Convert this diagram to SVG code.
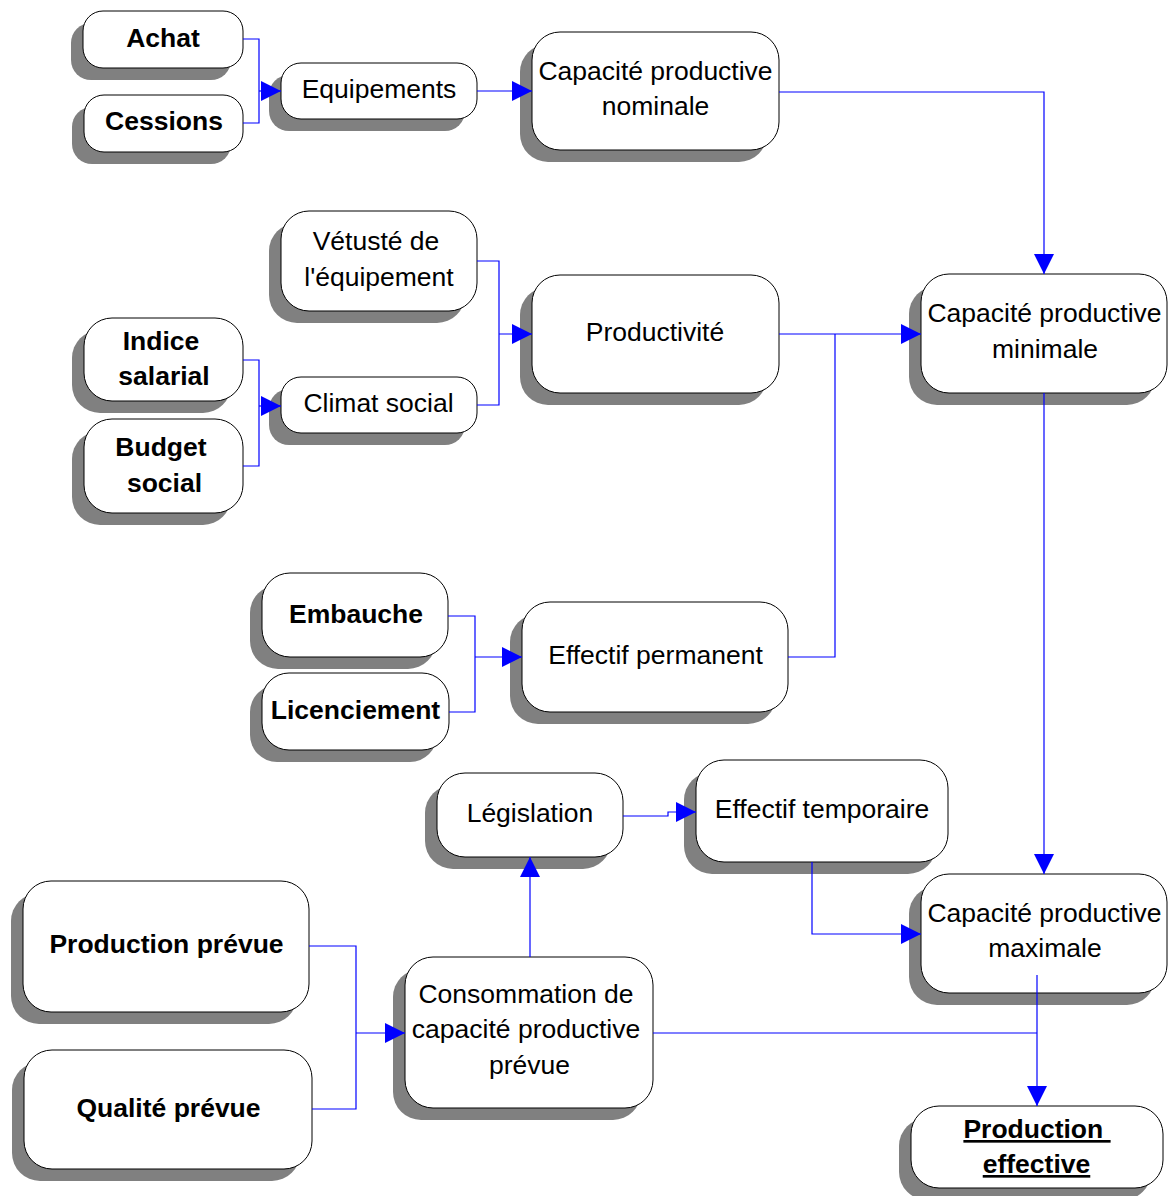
<svg xmlns="http://www.w3.org/2000/svg" width="1168" height="1196" viewBox="0 0 1168 1196">
<defs>
<style>
.sh{fill:#808080;stroke:none}
.bx{fill:#ffffff;stroke:#000000;stroke-width:1}
.t{font-family:"Liberation Sans",Arial,sans-serif;font-size:26.5px;fill:#000000;text-anchor:middle}
.b{font-weight:bold}
.c{fill:none;stroke:#0000ff;stroke-width:1.2}
</style>
<marker id="ah" markerUnits="userSpaceOnUse" markerWidth="20" markerHeight="20" viewBox="0 0 20 20" refX="20" refY="10" orient="auto">
<path d="M0,0 L20,10 L0,20 Z" fill="#0000ff"/>
</marker>
</defs>
<rect width="1168" height="1196" fill="#ffffff"/>
<g id="achat"><rect class="sh" x="71" y="23" width="160" height="57" rx="20"/><rect class="bx" x="83" y="11" width="160" height="57" rx="20"/><text class="t b" x="163" y="47">Achat</text></g>
<g id="cessions"><rect class="sh" x="72" y="107" width="159" height="57" rx="20"/><rect class="bx" x="84" y="95" width="159" height="57" rx="20"/><text class="t b" x="164" y="130">Cessions</text></g>
<g id="equipements"><rect class="sh" x="269" y="75" width="196" height="56" rx="20"/><rect class="bx" x="281" y="63" width="196" height="56" rx="20"/><text class="t" x="379" y="98">Equipements</text></g>
<g id="cap-nominale"><rect class="sh" x="520" y="44" width="247" height="118" rx="28"/><rect class="bx" x="532" y="32" width="247" height="118" rx="28"/><text class="t" x="655.5" y="80">Capacité productive</text><text class="t" x="655.5" y="115">nominale</text></g>
<g id="vetuste"><rect class="sh" x="269" y="223" width="196" height="100" rx="28"/><rect class="bx" x="281" y="211" width="196" height="100" rx="28"/><text class="t" x="376" y="250">Vétusté de</text><text class="t" x="379" y="286">l'équipement</text></g>
<g id="indice"><rect class="sh" x="72" y="330" width="159" height="83" rx="28"/><rect class="bx" x="84" y="318" width="159" height="83" rx="28"/><text class="t b" x="161" y="350">Indice</text><text class="t b" x="164" y="385">salarial</text></g>
<g id="budget"><rect class="sh" x="72" y="431" width="159" height="94" rx="28"/><rect class="bx" x="84" y="419" width="159" height="94" rx="28"/><text class="t b" x="161" y="456">Budget</text><text class="t b" x="164.5" y="492">social</text></g>
<g id="climat"><rect class="sh" x="269" y="389" width="196" height="56" rx="20"/><rect class="bx" x="281" y="377" width="196" height="56" rx="20"/><text class="t" x="378.5" y="412">Climat social</text></g>
<g id="productivite"><rect class="sh" x="520" y="287" width="247" height="118" rx="28"/><rect class="bx" x="532" y="275" width="247" height="118" rx="28"/><text class="t" x="655" y="341">Productivité</text></g>
<g id="cap-minimale"><rect class="sh" x="909" y="286" width="246" height="119" rx="28"/><rect class="bx" x="921" y="274" width="246" height="119" rx="28"/><text class="t" x="1044.5" y="322">Capacité productive</text><text class="t" x="1045" y="358">minimale</text></g>
<g id="embauche"><rect class="sh" x="250" y="585" width="186" height="84" rx="28"/><rect class="bx" x="262" y="573" width="186" height="84" rx="28"/><text class="t b" x="356" y="623">Embauche</text></g>
<g id="licenciement"><rect class="sh" x="250" y="685" width="187" height="77" rx="27"/><rect class="bx" x="262" y="673" width="187" height="77" rx="27"/><text class="t b" x="355.5" y="719">Licenciement</text></g>
<g id="effectif-permanent"><rect class="sh" x="510" y="614" width="266" height="110" rx="28"/><rect class="bx" x="522" y="602" width="266" height="110" rx="28"/><text class="t" x="655.5" y="664">Effectif permanent</text></g>
<g id="legislation"><rect class="sh" x="425" y="785" width="186" height="84" rx="28"/><rect class="bx" x="437" y="773" width="186" height="84" rx="28"/><text class="t" x="530" y="822">Législation</text></g>
<g id="effectif-temporaire"><rect class="sh" x="684" y="772" width="252" height="102" rx="28"/><rect class="bx" x="696" y="760" width="252" height="102" rx="28"/><text class="t" x="822" y="818">Effectif temporaire</text></g>
<g id="cap-maximale"><rect class="sh" x="909" y="886" width="246" height="119" rx="28"/><rect class="bx" x="921" y="874" width="246" height="119" rx="28"/><text class="t" x="1044.5" y="922">Capacité productive</text><text class="t" x="1045" y="957">maximale</text></g>
<g id="production-effective"><rect class="sh" x="899" y="1118" width="252" height="82" rx="28"/><rect class="bx" x="911" y="1106" width="252" height="82" rx="28"/><text class="t b" x="1037" y="1138" text-decoration="underline" xml:space="preserve">Production </text><text class="t b" x="1036.5" y="1173" text-decoration="underline">effective</text></g>
<g id="production-prevue"><rect class="sh" x="11" y="893" width="286" height="131" rx="28"/><rect class="bx" x="23" y="881" width="286" height="131" rx="28"/><text class="t b" x="166.5" y="953">Production prévue</text></g>
<g id="qualite-prevue"><rect class="sh" x="12" y="1062" width="288" height="119" rx="28"/><rect class="bx" x="24" y="1050" width="288" height="119" rx="28"/><text class="t b" x="168.5" y="1117">Qualité prévue</text></g>
<g id="consommation"><rect class="sh" x="393" y="969" width="248" height="151" rx="28"/><rect class="bx" x="405" y="957" width="248" height="151" rx="28"/><text class="t" x="526" y="1003">Consommation de</text><text class="t" x="526" y="1038">capacité productive</text><text class="t" x="529.5" y="1074">prévue</text></g>
<g id="connectors">
<path class="c" d="M243,39 H259 V123 H243"/>
<path class="c" d="M259,91 H281" marker-end="url(#ah)"/>
<path class="c" d="M477,91 H532" marker-end="url(#ah)"/>
<path class="c" d="M779,92 H1044 V274" marker-end="url(#ah)"/>
<path class="c" d="M477,261 H499 V405 H477"/>
<path class="c" d="M499,334 H532" marker-end="url(#ah)"/>
<path class="c" d="M243,360 H259 V466 H243"/>
<path class="c" d="M259,406 H281" marker-end="url(#ah)"/>
<path class="c" d="M779,334 H921" marker-end="url(#ah)"/>
<path class="c" d="M788,657 H835 V334"/>
<path class="c" d="M448,616 H475 V712 H449"/>
<path class="c" d="M475,657 H522" marker-end="url(#ah)"/>
<path class="c" d="M1044,393 V874" marker-end="url(#ah)"/>
<path class="c" d="M623,816 H668 V812 H696" marker-end="url(#ah)"/>
<path class="c" d="M812,862 V934 H921" marker-end="url(#ah)"/>
<path class="c" d="M309,946 H356 V1109 H312"/>
<path class="c" d="M356,1033 H405" marker-end="url(#ah)"/>
<path class="c" d="M530,957 V857" marker-end="url(#ah)"/>
<path class="c" d="M653,1033 H1037"/>
<path class="c" d="M1037,975 V1106" marker-end="url(#ah)"/>
</g>
</svg>
